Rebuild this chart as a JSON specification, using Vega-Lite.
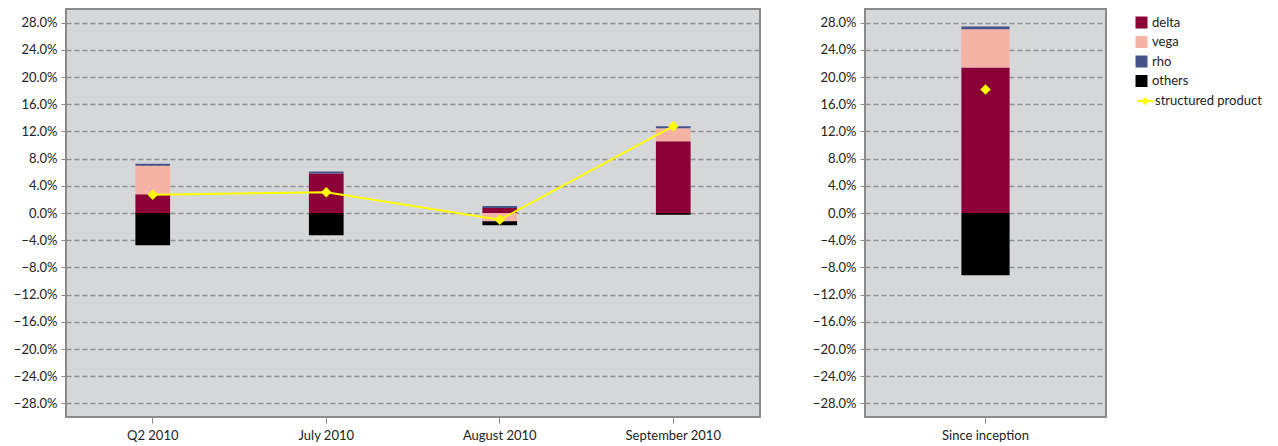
{
  "$schema": "https://vega.github.io/schema/vega-lite/v6.json",
  "padding": {"left": 12, "top": 8, "right": 5, "bottom": 5},
  "background": "white",
  "config": {
    "font": "Lato",
    "view": {"fill": "#d6d7d9", "stroke": "#8a8a8a", "strokeWidth": 2},
    "axis": {"labelFont": "Lato", "labelFontSize": 13, "labelColor": "#222", "tickColor": "#8a8a8a", "domain": false, "title": null, "labelOverlap": false},
    "legend": {"labelFont": "Lato", "labelFontSize": 13, "labelColor": "#222", "padding": 0, "rowPadding": 5.5, "title": null},
    "concat": {"spacing": 50}
  },
  "datasets": {
    "bars": [
      {"period": "Q2 2010", "component": "delta", "value": 0.0276},
      {"period": "Q2 2010", "component": "vega", "value": 0.042},
      {"period": "Q2 2010", "component": "rho", "value": 0.003},
      {"period": "Q2 2010", "component": "others", "value": -0.0473},
      {"period": "July 2010", "component": "delta", "value": 0.058},
      {"period": "July 2010", "component": "vega", "value": 0.0},
      {"period": "July 2010", "component": "rho", "value": 0.003},
      {"period": "July 2010", "component": "others", "value": -0.0326},
      {"period": "August 2010", "component": "delta", "value": 0.0072},
      {"period": "August 2010", "component": "vega", "value": -0.012},
      {"period": "August 2010", "component": "rho", "value": 0.003},
      {"period": "August 2010", "component": "others", "value": -0.006},
      {"period": "September 2010", "component": "delta", "value": 0.1056},
      {"period": "September 2010", "component": "vega", "value": 0.0191},
      {"period": "September 2010", "component": "rho", "value": 0.003},
      {"period": "September 2010", "component": "others", "value": -0.0025}
    ],
    "line": [
      {"period": "Q2 2010", "product": 0.0267},
      {"period": "July 2010", "product": 0.0306},
      {"period": "August 2010", "product": -0.0100},
      {"period": "September 2010", "product": 0.1277}
    ],
    "bars2": [
      {"period": "Since inception", "component": "delta", "value": 0.214},
      {"period": "Since inception", "component": "vega", "value": 0.0563},
      {"period": "Since inception", "component": "rho", "value": 0.004},
      {"period": "Since inception", "component": "others", "value": -0.0915}
    ],
    "line2": [
      {"period": "Since inception", "product": 0.1816}
    ]
  },
  "hconcat": [
    {
      "width": 694,
      "height": 408,
      "layer": [
        {
          "data": {"name": "bars"},
          "transform": [{"calculate": "indexof(['delta','vega','rho','others'], datum.component)", "as": "stackOrder"}],
          "mark": {"type": "bar"},
          "encoding": {
            "x": {
              "field": "period", "type": "nominal", "sort": ["Q2 2010", "July 2010", "August 2010", "September 2010"],
              "scale": {"paddingInner": 0.8, "paddingOuter": 0.4},
              "axis": {"labelAngle": 0, "grid": false, "tickSize": 6, "labelPadding": 6}
            },
            "y": {
              "field": "value", "type": "quantitative", "stack": "zero",
              "scale": {"domain": [-0.3, 0.3], "nice": false},
              "axis": {"values": [-0.28, -0.24, -0.2, -0.16, -0.12, -0.08, -0.04, 0, 0.04, 0.08, 0.12, 0.16, 0.2, 0.24, 0.28], "tickCount": 30, "format": ".1%", "labelOverlap": false, "grid": true, "gridDash": [5, 3], "gridColor": "#8f8f8f", "gridWidth": 1.5, "gridOpacity": 1, "tickSize": 6, "tickDash": [5, 3], "labelPadding": 3}
            },
            "fill": {
              "field": "component", "type": "nominal",
              "scale": {"domain": ["delta", "vega", "rho", "others"], "range": ["#8b0037", "#f5b3a5", "#45548a", "#000000"]},
              "legend": {"symbolType": "square", "symbolSize": 144, "symbolStrokeWidth": 0, "orient": "none", "legendX": 1069, "legendY": 7}
            },
            "order": {"field": "stackOrder", "type": "quantitative"}
          }
        },
        {
          "data": {"name": "line"},
          "mark": {"type": "line", "strokeWidth": 2},
          "encoding": {
            "x": {"field": "period", "type": "nominal", "sort": ["Q2 2010", "July 2010", "August 2010", "September 2010"]},
            "y": {"field": "product", "type": "quantitative"},
            "stroke": {
              "datum": "structured product", "type": "nominal",
              "scale": {"range": ["#ffff00"]},
              "legend": {"symbolType": "M-1,0H1M0,-0.32L0.32,0L0,0.32L-0.32,0Z", "symbolSize": 256, "symbolStrokeWidth": 2, "symbolFillColor": "#ffff00", "labelOffset": 1, "orient": "none", "legendX": 1070, "legendY": 83}
            }
          }
        },
        {
          "data": {"name": "line"},
          "mark": {"type": "point", "shape": "diamond", "filled": true, "size": 110, "color": "#ffff00", "opacity": 1},
          "encoding": {
            "x": {"field": "period", "type": "nominal", "sort": ["Q2 2010", "July 2010", "August 2010", "September 2010"]},
            "y": {"field": "product", "type": "quantitative"}
          }
        }
      ]
    },
    {
      "width": 241,
      "height": 408,
      "layer": [
        {
          "data": {"name": "bars2"},
          "transform": [{"calculate": "indexof(['delta','vega','rho','others'], datum.component)", "as": "stackOrder"}],
          "mark": {"type": "bar"},
          "encoding": {
            "x": {
              "field": "period", "type": "nominal",
              "scale": {"paddingInner": 0.8, "paddingOuter": 0.4},
              "axis": {"labelAngle": 0, "grid": false, "tickSize": 6, "labelPadding": 6}
            },
            "y": {
              "field": "value", "type": "quantitative", "stack": "zero",
              "scale": {"domain": [-0.3, 0.3], "nice": false},
              "axis": {"values": [-0.28, -0.24, -0.2, -0.16, -0.12, -0.08, -0.04, 0, 0.04, 0.08, 0.12, 0.16, 0.2, 0.24, 0.28], "tickCount": 30, "format": ".1%", "labelOverlap": false, "grid": true, "gridDash": [5, 3], "gridColor": "#8f8f8f", "gridWidth": 1.5, "gridOpacity": 1, "tickSize": 6, "tickDash": [5, 3], "labelPadding": 3}
            },
            "fill": {
              "field": "component", "type": "nominal",
              "scale": {"domain": ["delta", "vega", "rho", "others"], "range": ["#8b0037", "#f5b3a5", "#45548a", "#000000"]}
            },
            "order": {"field": "stackOrder", "type": "quantitative"}
          }
        },
        {
          "data": {"name": "line2"},
          "mark": {"type": "point", "shape": "diamond", "filled": true, "size": 110, "color": "#ffff00", "opacity": 1},
          "encoding": {
            "x": {"field": "period", "type": "nominal"},
            "y": {"field": "product", "type": "quantitative"}
          }
        }
      ]
    }
  ]
}
